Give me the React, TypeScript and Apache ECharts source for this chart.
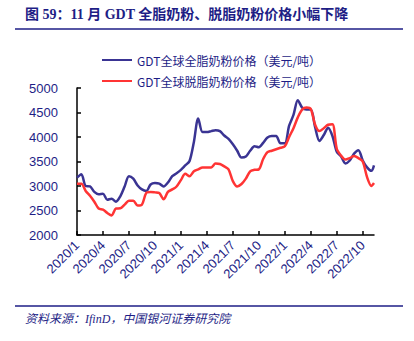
import React, { useEffect, useRef } from "react";
import * as echarts from "echarts";

const dates = [
  "2020-01-01","2020-01-16","2020-02-01","2020-02-16","2020-03-01","2020-03-16","2020-04-01","2020-04-16","2020-05-01","2020-05-16",
  "2020-06-01","2020-06-16","2020-07-01","2020-07-16","2020-08-01","2020-08-16","2020-09-01","2020-09-16","2020-10-01","2020-10-16",
  "2020-11-01","2020-11-16","2020-12-01","2020-12-16","2021-01-01","2021-01-16","2021-02-01","2021-02-16","2021-03-01","2021-03-16",
  "2021-04-01","2021-04-16","2021-05-01","2021-05-16","2021-06-01","2021-06-16","2021-07-01","2021-07-16","2021-08-01","2021-08-16",
  "2021-09-01","2021-09-16","2021-10-01","2021-10-16","2021-11-01","2021-11-16","2021-12-01","2021-12-16","2022-01-01","2022-01-16",
  "2022-02-01","2022-02-16","2022-03-01","2022-03-16","2022-04-01","2022-04-16","2022-05-01","2022-05-16","2022-06-01","2022-06-16",
  "2022-07-01","2022-07-16","2022-08-01","2022-08-16","2022-09-01","2022-09-16","2022-10-01","2022-10-16","2022-11-01","2022-11-10",
];

const wholeMilkPowder = [
  3170,3240,3000,2990,2880,2830,2840,2720,2740,2680,
  2790,2990,3200,3150,3010,2930,2900,3030,3060,3050,
  2990,3070,3200,3260,3330,3420,3510,3900,4380,4100,
  4100,4120,4140,4120,4030,3960,3850,3720,3580,3600,
  3720,3810,3790,3880,3990,4020,4020,3870,3870,4230,
  4450,4750,4600,4560,4560,4200,3920,4040,4190,4020,
  3700,3600,3460,3520,3660,3730,3520,3380,3310,3420,
];

const skimMilkPowder = [
  3045,3045,2900,2800,2680,2540,2520,2450,2400,2540,
  2545,2620,2700,2700,2600,2620,2860,2880,2870,2855,
  2730,2880,2930,2990,3120,3250,3200,3300,3340,3380,
  3380,3380,3460,3450,3400,3340,3100,2990,3040,3150,
  3300,3330,3340,3550,3690,3720,3750,3780,3810,4000,
  4180,4400,4560,4600,4570,4250,4120,4180,4250,4260,
  3760,3620,3540,3570,3610,3570,3500,3180,3000,3060,
];

const seriesNames = ["GDT全球全脂奶粉价格（美元/吨）", "GDT全球脱脂奶粉价格（美元/吨）"];
const xTickMonths = [0, 3, 6, 9, 12, 15, 18, 21, 24, 27, 30, 33];
const titleText = "图 59：11 月 GDT 全脂奶粉、脱脂奶粉价格小幅下降";
const sourceText = "资料来源：IfinD，中国银河证券研究院";

const toMonth = (s: string) => {
  const [y, m, d] = s.split("-").map(Number);
  return (y - 2020) * 12 + (m - 1) + (d - 1) / 30;
};
const monthLabel = (v: number) => `${2020 + Math.floor(v / 12)}/${(v % 12) + 1}`;

const NAVY = "#1E1E86";
const BLUE = "#3A3493";
const RED = "#FF3434";

export default function App() {
  const ref = useRef<HTMLDivElement>(null);
  useEffect(() => {
    if (!ref.current) return;
    const chart = echarts.init(ref.current, null, { renderer: "svg" });
    const xs = dates.map(toMonth);
    chart.setOption({
      animation: false,
      backgroundColor: "#ffffff",
      textStyle: { fontFamily: "Liberation Sans, Arial, Noto Sans CJK SC" },
      graphic: [
        {
          type: "text",
          left: 25,
          top: 7,
          style: {
            text: titleText,
            fill: NAVY,
            font: "bold 14px 'Liberation Serif', 'Noto Sans CJK SC'",
          },
        },
        {
          type: "line",
          shape: { x1: 15, y1: 29, x2: 403, y2: 29 },
          style: { stroke: NAVY, lineWidth: 1.5 },
        },
        {
          type: "line",
          shape: { x1: 15, y1: 306, x2: 403, y2: 306 },
          style: { stroke: NAVY, lineWidth: 1.5 },
        },
        {
          type: "text",
          left: 25,
          top: 313,
          style: {
            text: sourceText,
            fill: NAVY,
            font: "italic 12px 'Liberation Serif', 'Noto Sans CJK SC'",
          },
        },
      ],
      legend: {
        orient: "vertical",
        left: 97,
        top: 49,
        itemWidth: 30,
        itemHeight: 2,
        itemGap: 9,
        icon: "rect",
        textStyle: { color: NAVY, fontSize: 12, fontFamily: "Noto Sans CJK SC" },
        data: seriesNames,
      },
      grid: { left: 77, right: 40, top: 88, bottom: 106, containLabel: false },
      xAxis: {
        type: "value",
        min: 0,
        max: 34.3,
        splitLine: { show: false },
        axisLine: { lineStyle: { color: "#000", width: 1.5 } },
        axisTick: {
          inside: true,
          length: 4,
          customValues: xTickMonths,
          lineStyle: { color: "#000", width: 1.5 },
        },
        axisLabel: {
          customValues: xTickMonths,
          rotate: 45,
          margin: 8,
          color: NAVY,
          fontSize: 13,
          formatter: (v: number) => monthLabel(v),
        },
      },
      yAxis: {
        type: "value",
        min: 2000,
        max: 5000,
        interval: 500,
        splitLine: { show: false },
        axisLine: { show: true, lineStyle: { color: "#000", width: 1.5 } },
        axisTick: { show: true, inside: true, length: 4, lineStyle: { color: "#000", width: 1.5 } },
        axisLabel: { color: NAVY, fontSize: 13, margin: 19, formatter: (v: number) => String(v) },
      },
      series: [
        {
          name: seriesNames[0],
          type: "line",
          smooth: 0.3,
          symbol: "none",
          lineStyle: { color: BLUE, width: 2.5 },
          itemStyle: { color: BLUE },
          data: xs.map((x, i) => [x, wholeMilkPowder[i]]),
        },
        {
          name: seriesNames[1],
          type: "line",
          smooth: 0.3,
          symbol: "none",
          lineStyle: { color: RED, width: 2.5 },
          itemStyle: { color: RED },
          data: xs.map((x, i) => [x, skimMilkPowder[i]]),
        },
      ],
    });
    return () => chart.dispose();
  }, []);
  return <div ref={ref} style={{ width: 414, height: 341, position: "absolute", left: 0, top: 0 }} />;
}
